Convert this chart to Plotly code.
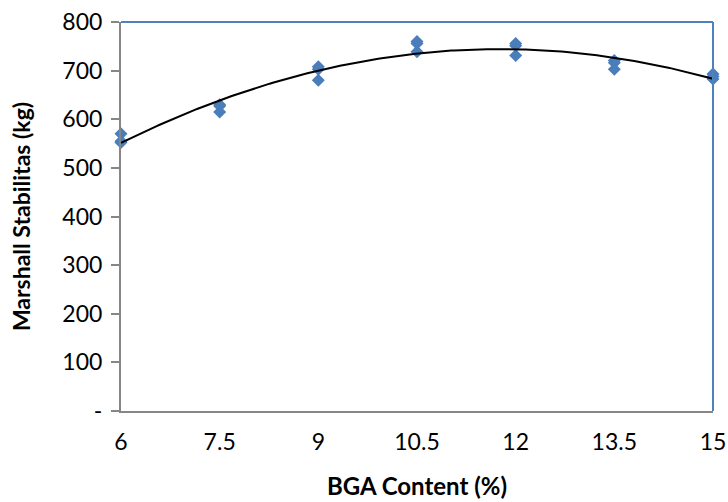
import numpy as np
import plotly.graph_objects as go

# Data
bga_content = [6, 6, 6, 7.5, 7.5, 7.5, 9, 9, 9, 10.5, 10.5, 10.5, 12, 12, 12, 13.5, 13.5, 13.5, 15, 15, 15]
stability = [570, 555, 552, 630, 627, 615, 708, 703, 680, 760, 756, 739, 756, 751, 731, 721, 716, 703, 693, 688, 683]

x_ticks = [6, 7.5, 9, 10.5, 12, 13.5, 15]
x_tick_labels = ["6", "7.5", "9", "10.5", "12", "13.5", "15"]
y_ticks = [0, 100, 200, 300, 400, 500, 600, 700, 800]
y_tick_labels = ["-", "100", "200", "300", "400", "500", "600", "700", "800"]

# Polynomial (order 2) trendline fitted to the data
coef = np.polyfit(bga_content, stability, 2)
xs = np.linspace(min(bga_content), max(bga_content), 200)
ys = np.polyval(coef, xs)

FONT = "Lato, Open Sans, sans-serif"
AXIS_GREY = "#868686"
BLUE = "#4F81BD"

fig = go.Figure()
fig.add_trace(go.Scatter(
    x=bga_content, y=stability, mode="markers",
    marker=dict(symbol="diamond", size=10, color="#4A7EBB"),
    showlegend=False, cliponaxis=False,
))
fig.add_trace(go.Scatter(
    x=xs, y=ys, mode="lines",
    line=dict(color="black", width=2),
    showlegend=False,
))

fig.update_layout(
    width=728, height=502,
    margin=dict(l=121, r=15, t=22, b=91),
    paper_bgcolor="white", plot_bgcolor="white",
    font=dict(family=FONT, size=23, color="black"),
    xaxis=dict(
        range=[6, 15], tickvals=x_ticks, ticktext=x_tick_labels,
        showgrid=False, zeroline=False, automargin=False,
        showline=True, linecolor=AXIS_GREY, linewidth=2,
        ticks="", ticklabelstandoff=9,
        title=dict(text="<b>BGA Content (%)</b>", font=dict(size=24), standoff=25),
    ),
    yaxis=dict(
        range=[0, 800], tickvals=y_ticks, ticktext=y_tick_labels,
        showgrid=False, zeroline=False, automargin=False,
        showline=True, linecolor=AXIS_GREY, linewidth=2,
        ticks="outside", ticklen=8, tickcolor=AXIS_GREY, tickwidth=1.5,
        ticklabelstandoff=4,
        title=dict(text="<b>Marshall Stabilitas (kg)</b>", font=dict(size=23), standoff=25),
    ),
    shapes=[
        dict(type="line", xref="paper", yref="paper", x0=0, x1=1, y0=1, y1=1,
             line=dict(color=BLUE, width=2)),
        dict(type="line", xref="paper", yref="paper", x0=1, x1=1, y0=0, y1=1,
             line=dict(color=BLUE, width=2)),
    ],
)

fig.write_html("out.html", config={"displayModeBar": False},
               post_script="document.body.style.margin='0';")
